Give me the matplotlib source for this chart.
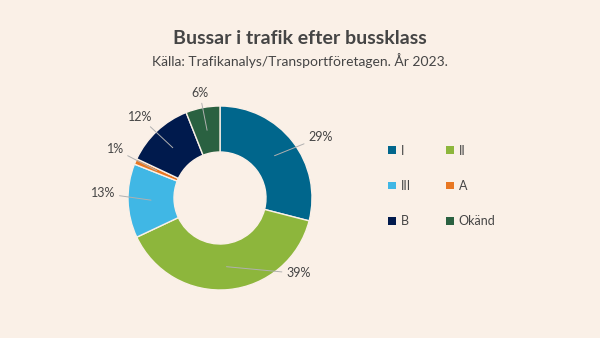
import numpy as np
from matplotlib import pyplot as plt
from matplotlib.patches import Patch

plt.rcParams['font.family'] = ['Lato', 'DejaVu Sans']

# Data
classes = ['I', 'II', 'III', 'A', 'B', 'Okänd']
shares = [29, 39, 13, 1, 12, 6]
colors = ['#00668c', '#8db63c', '#40b7e5', '#e87722', '#001a4d', '#2a6141']
# where each percentage label sits (data coords, pie radius = 1)
label_pos = [(1.09, 0.66), (0.85, -0.82), (-1.27, 0.05), (-1.14, 0.53), (-0.87, 0.88), (-0.22, 1.14)]

bg = '#faf0e7'
fig = plt.figure(figsize=(6, 3.38), dpi=100, facecolor=bg)

fig.text(0.5, 0.885, 'Bussar i trafik efter bussklass', ha='center', va='center',
         fontsize=14, fontweight='bold', color='#454545')
fig.text(0.5, 0.82, 'Källa: Trafikanalys/Transportföretagen. År 2023.', ha='center', va='center',
         fontsize=10, color='#454545')

ax = fig.add_axes([105/600, 25/338, 230/600, 230/338])
ax.set_facecolor(bg)
wedges, _ = ax.pie(shares, colors=colors, startangle=90, counterclock=False,
                   wedgeprops=dict(width=0.5, edgecolor=bg, linewidth=1))
ax.set_xlim(-1.25, 1.25)
ax.set_ylim(-1.25, 1.25)
ax.set_aspect('equal')
ax.axis('off')

for w, s, (lx, ly) in zip(wedges, shares, label_pos):
    ang = np.deg2rad((w.theta1 + w.theta2) / 2)
    x0, y0 = 0.75 * np.cos(ang), 0.75 * np.sin(ang)
    ax.annotate(f'{s}%', xy=(x0, y0), xytext=(lx, ly), ha='center', va='center',
                fontsize=9, color='#454545',
                arrowprops=dict(arrowstyle='-', color='#b0b0b0', lw=0.7,
                                shrinkA=1, shrinkB=0))

order = [0, 2, 4, 1, 3, 5]
handles = [Patch(facecolor=colors[i], label=classes[i]) for i in order]
fig.legend(handles=handles, ncol=2, loc='upper left', bbox_to_anchor=(0.628, 0.605),
           frameon=False, fontsize=9, handlelength=0.6, handleheight=0.6,
           handletextpad=0.4, labelspacing=1.85, columnspacing=2.85, labelcolor='#454545')

fig.savefig('out.png', dpi=100, facecolor=bg)
